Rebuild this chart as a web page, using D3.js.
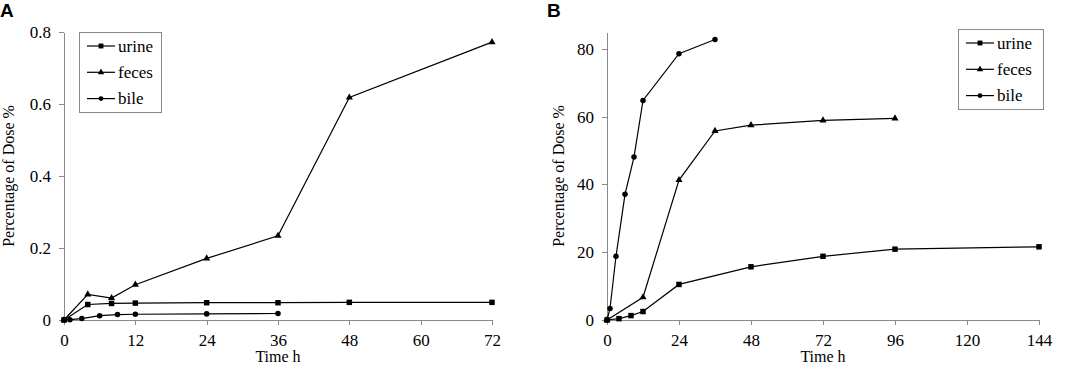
<!DOCTYPE html>
<html>
<head>
<meta charset="utf-8">
<script src="https://cdn.jsdelivr.net/npm/d3@7"></script>
<style>
  body { margin: 0; background: #fff; }
  svg text { font-family: "Liberation Serif", "Times New Roman", serif; fill: #000; }
</style>
</head>
<body>
<svg id="chart" width="1065" height="368"></svg>
<script>
// panel A
const timeA_urine = [0, 4, 8, 12, 24, 36, 48, 72];
const valA_urine  = [0, 0.043, 0.046, 0.047, 0.048, 0.048, 0.049, 0.049];
const timeA_feces = [0, 4, 8, 12, 24, 36, 48, 72];
const valA_feces  = [0, 0.071, 0.061, 0.098, 0.171, 0.234, 0.618, 0.772];
const timeA_bile  = [0, 1, 3, 6, 9, 12, 24, 36];
const valA_bile   = [0, 0.001, 0.004, 0.012, 0.015, 0.016, 0.017, 0.018];
const ticksA_x = [0, 12, 24, 36, 48, 60, 72];
const ticksA_y = [0, 0.2, 0.4, 0.6, 0.8];

// panel B
const timeB_urine = [0, 4, 8, 12, 24, 48, 72, 96, 144];
const valB_urine  = [0, 0.4, 1.3, 2.5, 10.5, 15.7, 18.8, 20.9, 21.6];
const timeB_feces = [0, 12, 24, 36, 48, 72, 96];
const valB_feces  = [0, 6.7, 41.3, 55.8, 57.5, 58.9, 59.5];
const timeB_bile  = [0, 1, 3, 6, 9, 12, 24, 36];
const valB_bile   = [0, 3.4, 18.8, 37.1, 48.1, 64.8, 78.6, 82.8];
const ticksB_x = [0, 24, 48, 72, 96, 120, 144];
const ticksB_y = [0, 20, 40, 60, 80];

const seriesNames = ["urine", "feces", "bile"];
const symbols = { urine: d3.symbolSquare, feces: d3.symbolTriangle, bile: d3.symbolCircle };
const symSize = { urine: 30, feces: 22, bile: 24 };

const svg = d3.select("#chart");
const axisColor = "#8a8a8a";
const serif = '"Liberation Serif", "Times New Roman", serif';

function zip(xs, ys) { return xs.map((x, i) => ({ x, y: ys[i] })); }

function drawPanel(cfg) {
  const x = d3.scaleLinear().domain(cfg.xDomain).range([cfg.left, cfg.right]);
  const y = d3.scaleLinear().domain(cfg.yDomain).range([320, 32]);

  const xAxis = svg.append("g")
    .attr("transform", "translate(0,320)")
    .call(d3.axisBottom(x).tickValues(cfg.xTicks).tickSize(5).tickSizeOuter(0).tickPadding(9));
  const yAxis = svg.append("g")
    .attr("transform", `translate(${cfg.left},0)`)
    .call(d3.axisLeft(y).tickValues(cfg.yTicks).tickSize(5).tickSizeOuter(0)
      .tickPadding(cfg.yPad).tickFormat(cfg.yFormat));

  [xAxis, yAxis].forEach(a => {
    a.attr("font-family", null).attr("font-size", null);
    a.selectAll("path, line").attr("stroke", axisColor).attr("shape-rendering", "crispEdges");
    a.selectAll("text")
      .style("font-family", serif)
      .style("font-size", "17px")
      .attr("fill", "#000");
  });

  const line = d3.line().x(d => x(d.x)).y(d => y(d.y));

  cfg.series.forEach(s => {
    const pts = zip(s.t, s.v);
    svg.append("path")
      .datum(pts)
      .attr("fill", "none")
      .attr("stroke", "#000")
      .attr("stroke-width", 1.2)
      .attr("d", line);
    svg.append("g").selectAll("path")
      .data(pts)
      .join("path")
      .attr("transform", d => `translate(${x(d.x)},${y(d.y)})`)
      .attr("d", d3.symbol(symbols[s.name], symSize[s.name]))
      .attr("fill", "#000");
  });

  // axis titles
  svg.append("text")
    .attr("x", (cfg.left + cfg.right) / 2)
    .attr("y", 362)
    .attr("text-anchor", "middle")
    .style("font-size", "16px")
    .text("Time h");
  svg.append("text")
    .attr("transform", `translate(${cfg.titleX},176) rotate(-90)`)
    .attr("text-anchor", "middle")
    .style("font-size", "16px")
    .text("Percentage of Dose %");

  // panel letter
  svg.append("text")
    .attr("x", cfg.letterX)
    .attr("y", 17)
    .style("font-family", '"Liberation Sans", Arial, sans-serif')
    .attr("font-weight", "bold")
    .style("font-size", "19px")
    .text(cfg.letter);

  // legend
  const lg = cfg.legend;
  svg.append("rect")
    .attr("x", lg.x).attr("y", lg.y)
    .attr("width", lg.w).attr("height", lg.h)
    .attr("fill", "#fff")
    .attr("stroke", axisColor)
    .attr("shape-rendering", "crispEdges");
  seriesNames.forEach((name, i) => {
    const cy = lg.y + 14 + i * 26.3;
    const x0 = lg.x + 8, x1 = x0 + 28;
    svg.append("line")
      .attr("x1", x0).attr("x2", x1)
      .attr("y1", cy).attr("y2", cy)
      .attr("stroke", "#000").attr("stroke-width", 1.2);
    svg.append("path")
      .attr("transform", `translate(${(x0 + x1) / 2},${cy})`)
      .attr("d", d3.symbol(symbols[name], symSize[name] * 0.8))
      .attr("fill", "#000");
    svg.append("text")
      .attr("x", x1 + 3)
      .attr("y", cy + 5.5)
      .style("font-size", "17px")
      .text(name);
  });
}

drawPanel({
  left: 64, right: 492,
  xDomain: [0, 72], yDomain: [0, 0.8],
  xTicks: ticksA_x, yTicks: ticksA_y,
  yFormat: d => d === 0 ? "0" : d3.format(".1f")(d),
  yPad: 8,
  titleX: 13.5, letter: "A", letterX: 0,
  legend: { x: 79, y: 32, w: 82, h: 80 },
  series: [
    { name: "urine", t: timeA_urine, v: valA_urine },
    { name: "feces", t: timeA_feces, v: valA_feces },
    { name: "bile",  t: timeA_bile,  v: valA_bile }
  ]
});

drawPanel({
  left: 607, right: 1039,
  xDomain: [0, 144], yDomain: [0, 85],
  xTicks: ticksB_x, yTicks: ticksB_y,
  yFormat: d3.format("d"),
  yPad: 8,
  titleX: 564, letter: "B", letterX: 547,
  legend: { x: 958, y: 29, w: 85, h: 80 },
  series: [
    { name: "urine", t: timeB_urine, v: valB_urine },
    { name: "feces", t: timeB_feces, v: valB_feces },
    { name: "bile",  t: timeB_bile,  v: valB_bile }
  ]
});
</script>
</body>
</html>
